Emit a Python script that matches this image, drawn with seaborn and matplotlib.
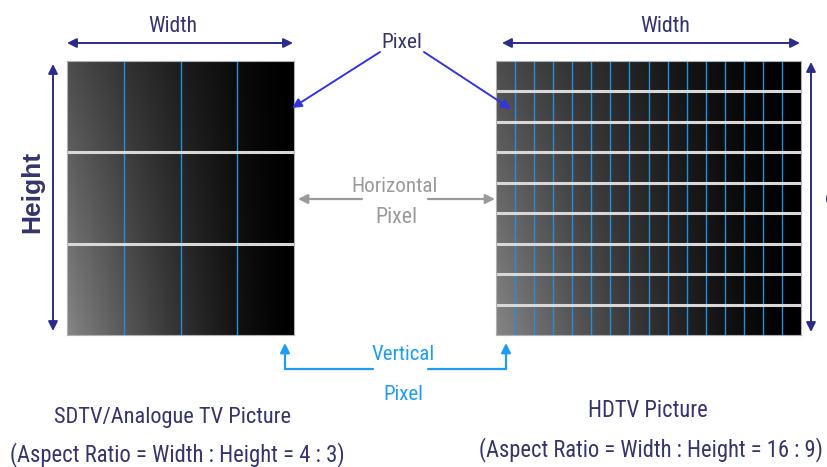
import matplotlib
matplotlib.use("Agg")
import matplotlib.pyplot as plt
import numpy as np
import seaborn as sns

# grid sizes of the two screens (columns x rows of pixels)
SD_COLS, SD_ROWS = 4, 3
HD_COLS, HD_ROWS = 16, 9

SD_TITLE = "SDTV/Analogue TV Picture"
SD_RATIO = "(Aspect Ratio = Width : Height = 4 : 3)"
HD_TITLE = "HDTV Picture"
HD_RATIO = "(Aspect Ratio = Width : Height = 16 : 9)"

W, H = 827, 467
NAVY = "#2b2b8c"
TEXT_NAVY = "#34346e"
PIX_BLUE = "#3434e0"
GRID_BLUE = "#1f8fe0"
LIGHT_BLUE = "#1e9cf5"
GREY = "#9a9a9a"

sns.set_theme(style="white")
plt.rcParams["font.family"] = ["Roboto Condensed", "Archivo Narrow", "Liberation Sans", "DejaVu Sans"]


def draw_screen(fig, box, n_cols, n_rows):
    left, top, right, bottom = box
    pax = fig.add_axes([left / W, 1 - bottom / H, (right - left) / W, (bottom - top) / H])
    res = 240
    xx, yy = np.meshgrid(np.linspace(0, 1, res), np.linspace(0, 1, res))
    shade = (0.30 + 0.22 * yy) * np.clip(1 - xx, 0, 1) ** 1.4
    sns.heatmap(shade, cmap="gray", vmin=0, vmax=1, cbar=False,
                xticklabels=False, yticklabels=False, ax=pax, rasterized=True)
    for k in range(1, n_cols):
        pax.axvline(k * res / n_cols, color=GRID_BLUE, lw=1.0)
    for k in range(1, n_rows):
        pax.axhline(k * res / n_rows, color="#d8d8d8", lw=2.2)
    for sp in pax.spines.values():
        sp.set_visible(True)
        sp.set_color("#b0b0b0")
        sp.set_linewidth(0.8)
    return pax


def arrow(ax, start, end, color, style="-|>", lw=1.4, ms=14):
    ax.annotate("", xy=end, xytext=start, zorder=6,
                arrowprops=dict(arrowstyle=style, color=color, lw=lw,
                                mutation_scale=ms, shrinkA=0, shrinkB=0))


def label(ax, x, y, s, width_px, color):
    # squeeze the font size so the label spans the same width as in the source
    t = ax.text(x, y, s, fontsize=20, color=color, ha="center", va="baseline")
    r = ax.figure.canvas.get_renderer()
    w = t.get_window_extent(renderer=r).width
    t.set_fontsize(20 * width_px / w)
    return t


fig = plt.figure(figsize=(W / 100, H / 100), dpi=100)
draw_screen(fig, (67, 61, 294, 335), SD_COLS, SD_ROWS)
draw_screen(fig, (496, 61, 801, 335), HD_COLS, HD_ROWS)

ax = fig.add_axes([0, 0, 1, 1])
ax.set_zorder(5)
ax.patch.set_alpha(0)
ax.set_xlim(0, W)
ax.set_ylim(H, 0)
ax.axis("off")

# width / height dimension arrows
arrow(ax, (67, 43), (293, 43), NAVY, "<|-|>")
arrow(ax, (502, 43), (800, 43), NAVY, "<|-|>")
arrow(ax, (53, 64), (53, 331), NAVY, "<|-|>")
arrow(ax, (811, 62), (811, 332), NAVY, "<|-|>")

label(ax, 173, 32, "Width", 49, TEXT_NAVY)
label(ax, 665, 32, "Width", 50, TEXT_NAVY)
ax.text(32, 192, "Height", fontsize=19, fontweight="bold", color=TEXT_NAVY,
        family=["Liberation Sans", "DejaVu Sans"], rotation=90, ha="center", va="center")
ax.text(835, 192, "Height", fontsize=19, fontweight="bold", color=TEXT_NAVY,
        family=["Liberation Sans", "DejaVu Sans"], rotation=270, ha="center", va="center")

# pixel pointers
label(ax, 402, 48, "Pixel", 41, TEXT_NAVY)
arrow(ax, (380, 52), (292, 108), PIX_BLUE)
arrow(ax, (424, 52), (511, 109), PIX_BLUE)

# horizontal pixel
label(ax, 395, 192, "Horizontal", 86, GREY)
label(ax, 396, 223, "Pixel", 42, GREY)
arrow(ax, (362, 199), (298, 199), GREY, lw=1.6)
arrow(ax, (428, 199), (495, 199), GREY, lw=1.6)

# vertical pixel
label(ax, 403, 360, "Vertical", 63, LIGHT_BLUE)
label(ax, 403, 400, "Pixel", 40, LIGHT_BLUE)
ax.plot([373, 285], [369, 369], color=LIGHT_BLUE, lw=1.6)
arrow(ax, (285, 369), (285, 343), LIGHT_BLUE, lw=1.6)
ax.plot([428, 506], [369, 369], color=LIGHT_BLUE, lw=1.6)
arrow(ax, (506, 369), (506, 343), LIGHT_BLUE, lw=1.6)

# captions
label(ax, 173, 423, SD_TITLE, 237, TEXT_NAVY)
label(ax, 177, 461, SD_RATIO, 333, TEXT_NAVY)
label(ax, 648, 417, HD_TITLE, 119, TEXT_NAVY)
label(ax, 651, 456, HD_RATIO, 343, TEXT_NAVY)

fig.savefig("out.png", dpi=100)
plt.close(fig)
